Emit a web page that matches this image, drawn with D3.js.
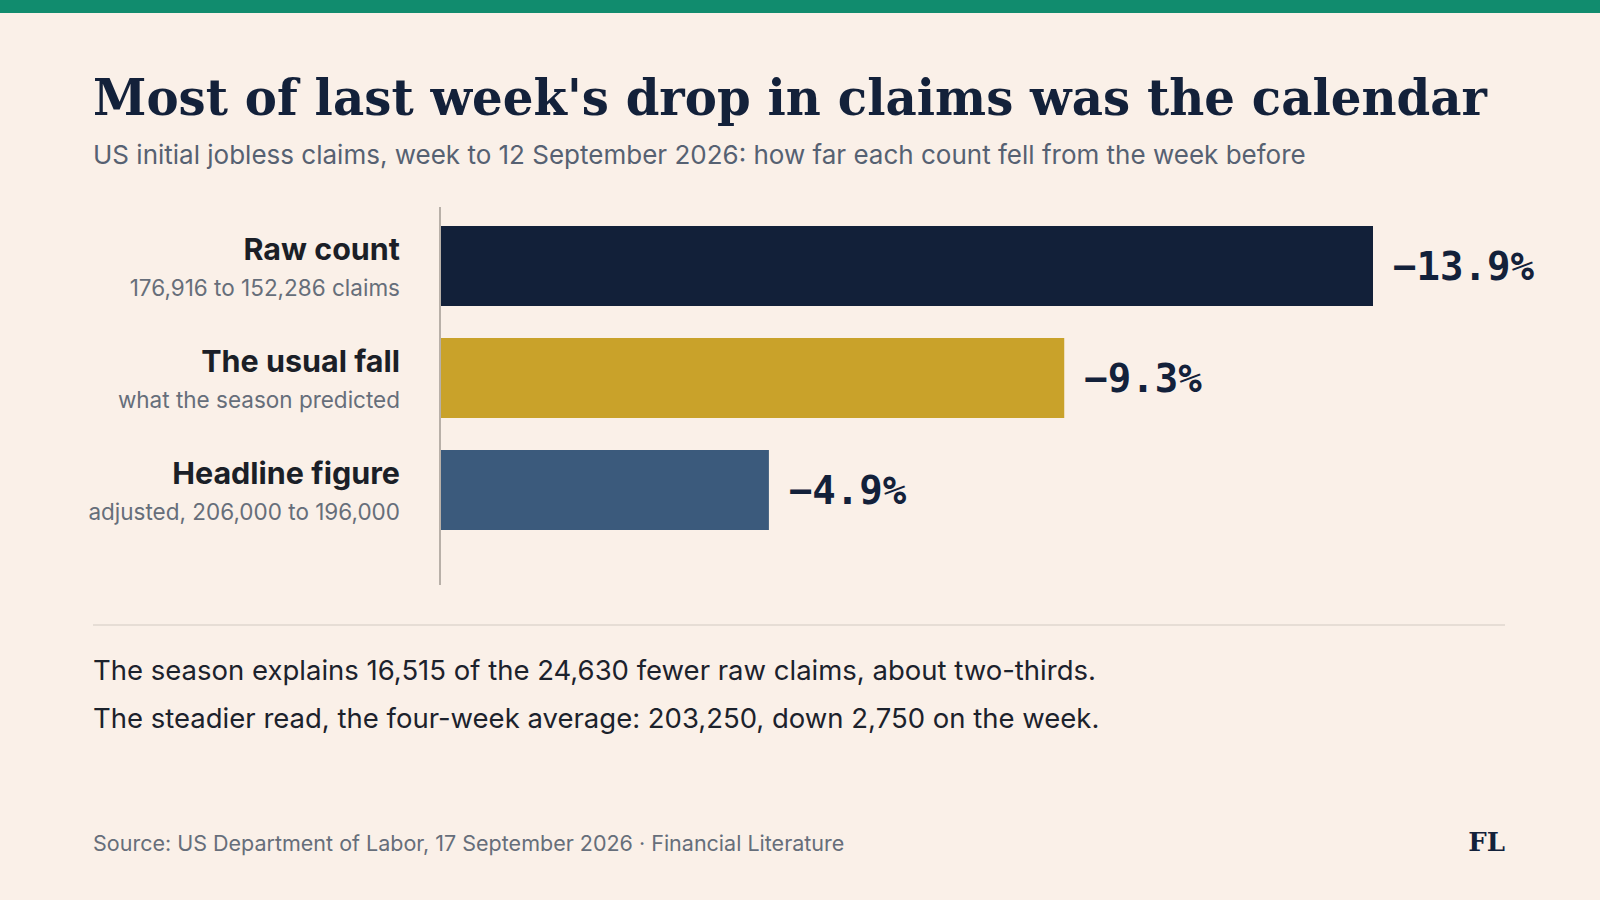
<!DOCTYPE html>
<html><head><meta charset="utf-8">
<script src="https://cdn.jsdelivr.net/npm/d3@7"></script>
<style>body{margin:0;background:#faf0e8}</style></head>
<body><svg id="c" width="1600" height="900"></svg>
<script>
const categories = ["Raw count", "The usual fall", "Headline figure"];
const subLabels = ["176,916 to 152,286 claims", "what the season predicted", "adjusted, 206,000 to 196,000"];
const values = [13.9, 9.3, 4.9];
const valueLabels = ["\u221213.9%", "\u22129.3%", "\u22124.9%"];
const colors = ["#122039", "#c9a22a", "#3b5a7c"];
const notes = ["The season explains 16,515 of the 24,630 fewer raw claims, about two-thirds.",
  "The steadier read, the four-week average: 203,250, down 2,750 on the week."];
const SANS = "Inter, 'Liberation Sans', Arial, sans-serif";

const svg = d3.select("#c");
svg.append("rect").attr("width",1600).attr("height",900).attr("fill","#faf0e8");
svg.append("rect").attr("width",1600).attr("height",13).attr("fill","#118c6e");
svg.append("text").attr("x",93).attr("y",115).text("Most of last week's drop in claims was the calendar")
  .attr("font-family","'DejaVu Serif', serif").attr("font-weight","bold").attr("font-size",50).attr("fill","#13213a")
  .attr("textLength",1394).attr("lengthAdjust","spacingAndGlyphs");
svg.append("text").attr("x",93).attr("y",164).text("US initial jobless claims, week to 12 September 2026: how far each count fell from the week before")
  .attr("font-family",SANS).attr("font-size",26).attr("fill","#566172");

const x = d3.scaleLinear().domain([0,13.9]).range([440,1373]);
const y = d3.scaleBand().domain(categories).range([226,530]).paddingInner(0.2857).paddingOuter(0);

svg.selectAll(".bar").data(categories).join("rect")
  .attr("x",x(0)).attr("y",d=>y(d)).attr("height",y.bandwidth())
  .attr("width",(d,i)=>x(values[i])-x(0)).attr("fill",(d,i)=>colors[i]);
svg.append("line").attr("x1",440).attr("x2",440).attr("y1",207).attr("y2",585).attr("stroke","#b8b0a8").attr("stroke-width",2);

svg.selectAll(".val").data(categories).join("text")
  .attr("x",(d,i)=>x(values[i])+20).attr("y",d=>y(d)+y.bandwidth()/2+14)
  .text((d,i)=>valueLabels[i]).attr("font-family","'DejaVu Sans Mono', monospace").attr("font-weight","bold")
  .attr("font-size",39).attr("fill","#13213a");
svg.selectAll(".name").data(categories).join("text")
  .attr("x",400).attr("y",d=>y(d)+34).attr("text-anchor","end").text(d=>d)
  .attr("font-family",SANS).attr("font-weight","bold").attr("font-size",30.5).attr("fill","#1b1f27");
svg.selectAll(".sub").data(categories).join("text")
  .attr("x",400).attr("y",d=>y(d)+70).attr("text-anchor","end").text((d,i)=>subLabels[i])
  .attr("font-family",SANS).attr("font-size",22.5).attr("fill","#666e7a");

svg.append("line").attr("x1",93).attr("x2",1505).attr("y1",625).attr("y2",625).attr("stroke","#d2cac2").attr("stroke-width",1.2);
svg.selectAll(".note").data(notes).join("text").attr("x",93).attr("y",(d,i)=>680+i*48).text(d=>d)
  .attr("font-family",SANS).attr("font-size",27.5).attr("fill","#1c222c");
svg.append("text").attr("x",93).attr("y",851).text("Source: US Department of Labor, 17 September 2026 \u00b7 Financial Literature")
  .attr("font-family",SANS).attr("font-size",21.5).attr("fill","#666e7a");
svg.append("text").attr("x",1505).attr("y",851).attr("text-anchor","end").text("FL")
  .attr("font-family","'DejaVu Serif', serif").attr("font-weight","bold").attr("font-size",26).attr("fill","#13213a");
</script></body></html>
